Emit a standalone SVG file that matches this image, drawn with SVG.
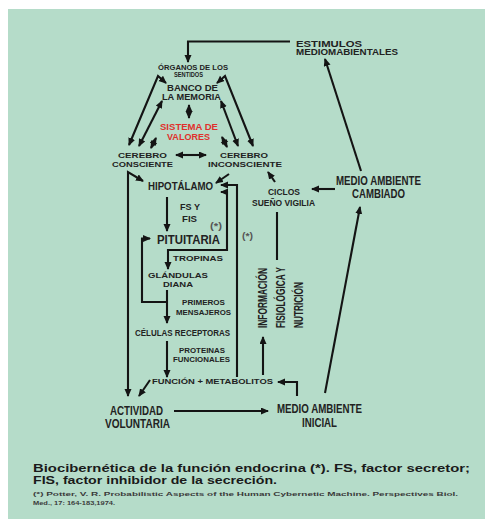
<svg xmlns="http://www.w3.org/2000/svg" width="485" height="519" viewBox="0 0 485 519">
<defs>
<style>
.t{font-family:"Liberation Sans",Arial,sans-serif;font-weight:bold;fill:#222;text-anchor:middle}
.s{font-size:7.3px}
.m{font-size:8.2px}
.b{font-size:12px}
.cap{font-family:"Liberation Sans",Arial,sans-serif;font-weight:bold;fill:#1a1a1a}
.c{fill:none;stroke:#141414;stroke-width:2.1;stroke-linejoin:miter}
.a{marker-end:url(#ah)}
.aa{marker-end:url(#ah);marker-start:url(#ah)}
</style>
<marker id="ah" markerUnits="userSpaceOnUse" markerWidth="9" markerHeight="8" refX="7" refY="3.5" orient="auto-start-reverse">
<path d="M0,0 L8,3.5 L0,7 z" fill="#141414"/>
</marker>
</defs>
<rect x="0" y="0" width="485" height="519" fill="#ffffff"/>
<rect x="8" y="9" width="477" height="510" fill="#b5dcc9"/>

<g id="connectors">
<path class="c a" d="M290,41.5 H188 V62"/>
<path class="c a" d="M361,171 L325,59"/>
<path class="c aa" d="M166,83 L158,76 L129,145"/>
<path class="c aa" d="M217,83 L225,76 L253,146"/>
<path class="c aa" d="M162,101 L139,146"/>
<path class="c aa" d="M221,101 L238,146"/>
<path class="c aa" d="M189,105 V118"/>
<path class="c aa" d="M156,138 L151,148"/>
<path class="c aa" d="M222,137 L227,147"/>
<path class="c aa" d="M176,155 H206"/>
<path class="c aa" d="M143,181 L128,172 V396"/>
<path class="c a" d="M229,174 L216,183"/>
<path class="c a" d="M237,377 V185 H221"/>
<path class="c a" d="M168,250 H227 V192 H221"/>
<path class="c a" d="M168,249 V269"/>
<path class="c a" d="M167,197 V231"/>
<path class="c a" d="M167,302 H142 V238.5 H150"/>
<path class="c a" d="M167,290 V323"/>
<path class="c a" d="M167,341 V377"/>
<path class="c a" d="M150,380 L139,396"/>
<path class="c a" d="M174,411 H268"/>
<path class="c a" d="M297,396 V382 H278"/>
<path class="c a" d="M263,375 V337"/>
<path class="c" d="M277,260 V212"/>
<path class="c a" d="M275,182 L268,172"/>
<path class="c a" d="M335,189 H312"/>
<path class="c a" d="M325,393 L360,207"/>
</g>

<g id="estimulos"><text class="t m" style="text-anchor:start" x="296" y="46.5" textLength="66" lengthAdjust="spacingAndGlyphs">ESTIMULOS</text><text class="t m" style="text-anchor:start" x="296" y="54.5" textLength="102" lengthAdjust="spacingAndGlyphs">MEDIOMABIENTALES</text></g>
<g id="organos"><text class="t s" x="193" y="69.5" textLength="70" lengthAdjust="spacingAndGlyphs">ÓRGANOS DE LOS</text><text class="t" style="font-size:6.8px" x="188.5" y="77" textLength="29" lengthAdjust="spacingAndGlyphs">SENTIDOS</text></g>
<g id="banco"><text class="t m" x="192.5" y="91" textLength="51" lengthAdjust="spacingAndGlyphs">BANCO DE</text><text class="t m" x="191.5" y="99.5" textLength="59" lengthAdjust="spacingAndGlyphs">LA MEMORIA</text></g>
<g id="sistema"><text class="t" style="font-size:8.8px;fill:#e0302c" x="189" y="130" textLength="58" lengthAdjust="spacingAndGlyphs">SISTEMA DE</text><text class="t" style="font-size:8.8px;fill:#e0302c" x="188.5" y="139.5" textLength="43" lengthAdjust="spacingAndGlyphs">VALORES</text></g>
<g id="consciente"><text class="t s" x="142.5" y="158" textLength="49" lengthAdjust="spacingAndGlyphs">CEREBRO</text><text class="t s" x="142.5" y="167" textLength="61" lengthAdjust="spacingAndGlyphs">CONSCIENTE</text></g>
<g id="inconsciente"><text class="t s" x="244" y="158" textLength="48" lengthAdjust="spacingAndGlyphs">CEREBRO</text><text class="t s" x="245" y="167" textLength="74" lengthAdjust="spacingAndGlyphs">INCONSCIENTE</text></g>
<g id="hipotalamo"><text class="t" style="font-size:11.5px" x="180.5" y="189.5" textLength="65" lengthAdjust="spacingAndGlyphs">HIPOTÁLAMO</text></g>
<g id="fs"><text class="t m" x="190" y="210" textLength="20" lengthAdjust="spacingAndGlyphs">FS Y</text><text class="t m" x="189.5" y="222" textLength="15" lengthAdjust="spacingAndGlyphs">FIS</text></g>
<g id="ast1"><text class="t m" style="fill:#555" x="216" y="229" textLength="12" lengthAdjust="spacingAndGlyphs">(*)</text></g>
<g id="ast2"><text class="t m" style="fill:#555" x="247.5" y="239" textLength="11" lengthAdjust="spacingAndGlyphs">(*)</text></g>
<g id="pituitaria"><text class="t" style="font-size:12px" x="188.5" y="244" textLength="63" lengthAdjust="spacingAndGlyphs">PITUITARIA</text></g>
<g id="tropinas"><text class="t" style="font-size:6.8px" x="198" y="261" textLength="50" lengthAdjust="spacingAndGlyphs">TROPINAS</text></g>
<g id="glandulas"><text class="t s" x="178" y="278" textLength="60" lengthAdjust="spacingAndGlyphs">GLÁNDULAS</text><text class="t s" x="178" y="287" textLength="30" lengthAdjust="spacingAndGlyphs">DIANA</text></g>
<g id="primeros"><text class="t" style="font-size:7.8px" x="203.5" y="305" textLength="43" lengthAdjust="spacingAndGlyphs">PRIMEROS</text><text class="t" style="font-size:7.8px" x="203.5" y="315" textLength="55" lengthAdjust="spacingAndGlyphs">MENSAJEROS</text></g>
<g id="celulas"><text class="t" style="font-size:8.6px" x="182.5" y="336" textLength="95" lengthAdjust="spacingAndGlyphs">CÉLULAS RECEPTORAS</text></g>
<g id="proteinas"><text class="t" style="font-size:7.8px" x="202" y="353" textLength="46" lengthAdjust="spacingAndGlyphs">PROTEINAS</text><text class="t" style="font-size:7.8px" x="201.5" y="362" textLength="57" lengthAdjust="spacingAndGlyphs">FUNCIONALES</text></g>
<g id="funcion"><text class="t" style="font-size:7.8px" x="212.5" y="384" textLength="121" lengthAdjust="spacingAndGlyphs">FUNCIÓN + METABOLITOS</text></g>
<g id="ciclos"><text class="t" style="font-size:8.8px" x="284" y="195" textLength="32" lengthAdjust="spacingAndGlyphs">CICLOS</text><text class="t" style="font-size:8.8px" x="283.5" y="206" textLength="63" lengthAdjust="spacingAndGlyphs">SUEÑO VIGILIA</text></g>
<g id="cambiado"><text class="t b" x="378.5" y="185" textLength="85" lengthAdjust="spacingAndGlyphs">MEDIO AMBIENTE</text><text class="t b" x="378.5" y="198" textLength="53" lengthAdjust="spacingAndGlyphs">CAMBIADO</text></g>
<g id="inicial"><text class="t" style="font-size:12.5px" x="319.5" y="413" textLength="85" lengthAdjust="spacingAndGlyphs">MEDIO AMBIENTE</text><text class="t" style="font-size:12.5px" x="319.5" y="427" textLength="35" lengthAdjust="spacingAndGlyphs">INICIAL</text></g>
<g id="actividad"><text class="t" style="font-size:12.5px" x="136.5" y="415" textLength="53" lengthAdjust="spacingAndGlyphs">ACTIVIDAD</text><text class="t" style="font-size:12.5px" x="137.5" y="428" textLength="65" lengthAdjust="spacingAndGlyphs">VOLUNTARIA</text></g>
<g id="informacion">
<text class="t b" style="text-anchor:start" transform="translate(266.5,328) rotate(-90)" textLength="60" lengthAdjust="spacingAndGlyphs">INFORMACIÓN</text>
<text class="t b" style="text-anchor:start" transform="translate(284.5,328) rotate(-90)" textLength="61" lengthAdjust="spacingAndGlyphs">FISIOLÓGICA Y</text>
<text class="t b" style="text-anchor:start" transform="translate(302.5,328) rotate(-90)" textLength="46" lengthAdjust="spacingAndGlyphs">NUTRICIÓN</text>
</g>

<g id="caption">
<text class="cap" style="font-size:10.5px" x="33" y="471.5" textLength="437" lengthAdjust="spacingAndGlyphs">Biocibernética de la función endocrina (*). FS, factor secretor;</text>
<text class="cap" style="font-size:10.5px" x="33" y="483.5" textLength="244" lengthAdjust="spacingAndGlyphs">FIS, factor inhibidor de la secreción.</text>
<text class="cap" style="font-size:5.8px;fill:#3a3a3a" x="33" y="496" textLength="425" lengthAdjust="spacingAndGlyphs">(*) Potter, V. R. Probabilistic Aspects of the Human Cybernetic Machine. Perspectives Biol.</text>
<text class="cap" style="font-size:5.8px;fill:#3a3a3a" x="33" y="504.5" textLength="82" lengthAdjust="spacingAndGlyphs">Med., 17: 164-183,1974.</text>
</g>
</svg>
